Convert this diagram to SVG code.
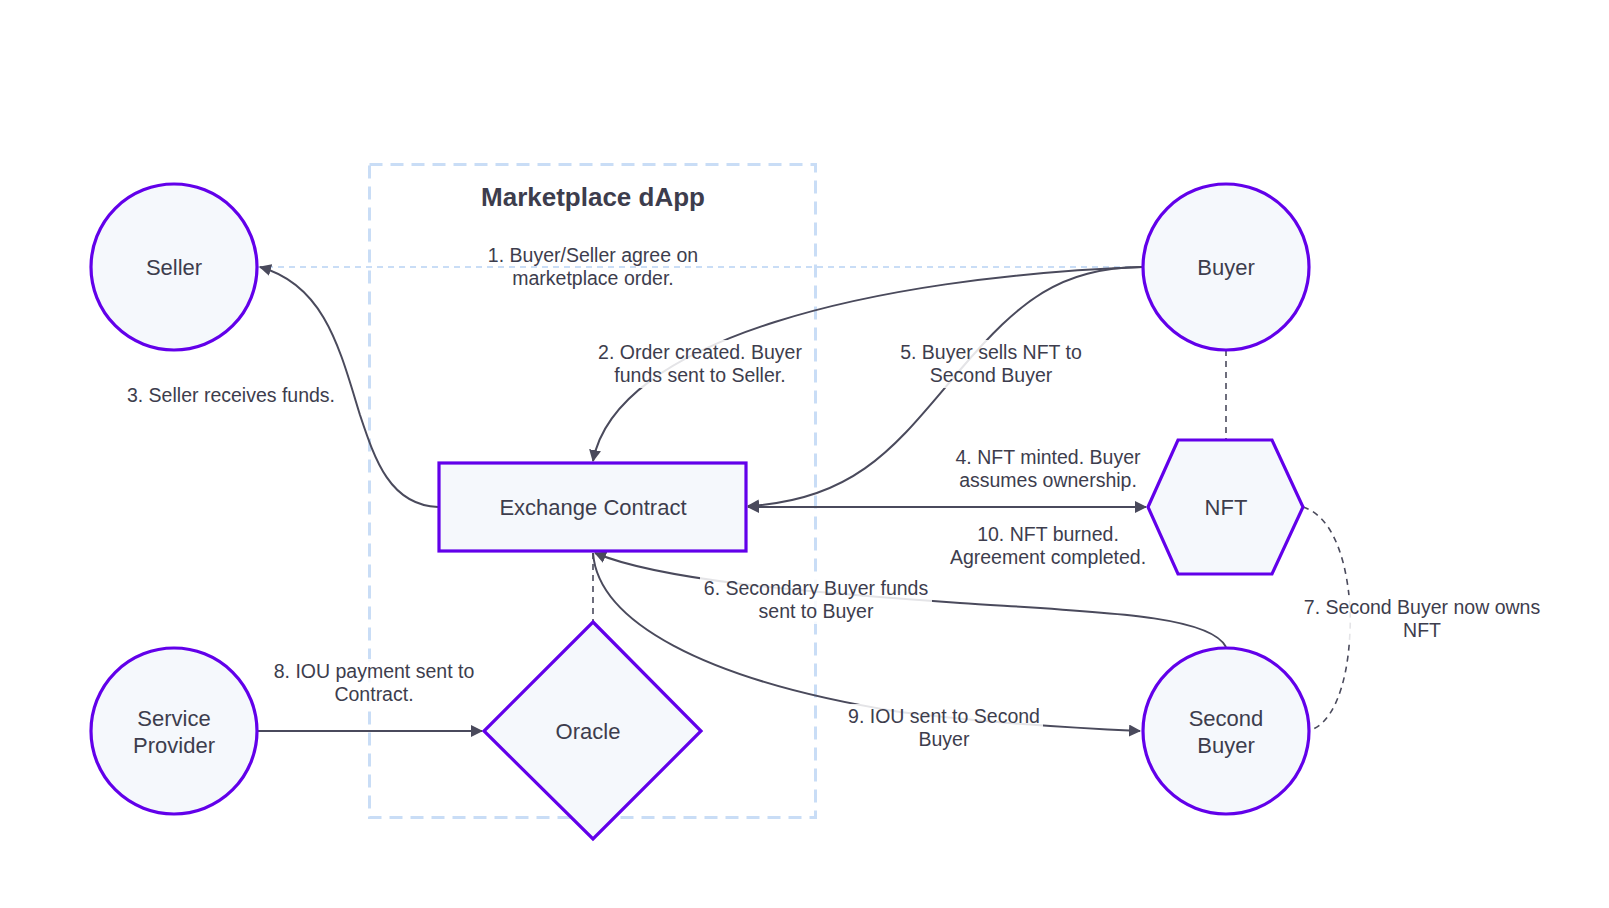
<svg xmlns="http://www.w3.org/2000/svg" width="1609" height="908" viewBox="0 0 1609 908">
<defs>
<marker id="arr" viewBox="0 0 12 12" refX="11" refY="6" markerWidth="12" markerHeight="12" markerUnits="userSpaceOnUse" orient="auto-start-reverse">
<path d="M0,0 L12,6 L0,12 z" fill="#4a4a5c"/>
</marker>
<style>
.node{fill:#f5f8fc;stroke:#6200ea;stroke-width:3.2}
.ntxt{font-family:"Liberation Sans",Arial,sans-serif;font-size:22px;fill:#3d3d4d;text-anchor:middle}
.etxt{font-family:"Liberation Sans",Arial,sans-serif;font-size:19.5px;fill:#3d3d4d;text-anchor:middle}
.title{font-family:"Liberation Sans",Arial,sans-serif;font-size:26px;font-weight:bold;fill:#3d3d4d;text-anchor:middle}
.edge{fill:none;stroke:#4a4a5c;stroke-width:2}
.dash{fill:none;stroke:#4a4a5c;stroke-width:1.6;stroke-dasharray:6,5}
.lbg{fill:#ffffff;fill-opacity:0.85}
.cluster{fill:none;stroke:#c9ddf6;stroke-width:3;stroke-dasharray:13,8}
</style>
</defs>
<rect x="0" y="0" width="1609" height="908" fill="#ffffff"/>
<g id="cluster-marketplace">
<rect class="cluster" x="369.5" y="164.5" width="446" height="653"/>
<text class="title" x="593" y="206">Marketplace dApp</text>
</g>
<g id="connectors">
<path d="M1142,267 L258,267" fill="none" stroke="#c9ddf6" stroke-width="1.8" stroke-dasharray="6,5"/>
<path class="edge" d="M1142,267 C872,277 616,339 593,461" marker-end="url(#arr)"/>
<path class="edge" d="M438,507 C390,505 375,460 360,415 C340,350 325,285 260,267" marker-end="url(#arr)"/>
<path class="edge" d="M748,507 L1146,507" marker-start="url(#arr)" marker-end="url(#arr)"/>
<path class="edge" d="M1142,267 C1060,268 1020,300 960,370 C900,440 860,500 748,506" marker-end="url(#arr)"/>
<path class="edge" d="M1226,647 C1210,615 1100,612 960,603 C800,592 660,580 595,553" marker-end="url(#arr)"/>
<path class="dash" d="M1303,507 C1345,520 1352,600 1350,630 C1348,690 1330,725 1310,730"/>
<path class="edge" d="M258,731 L482,731" marker-end="url(#arr)"/>
<path class="edge" d="M593,553 C598,620 700,680 900,712 C980,722 1050,727 1140,731" marker-end="url(#arr)"/>
<path class="dash" d="M593,553 L593,622"/>
<path class="dash" d="M1226,350 L1226,440"/>
</g>
<g id="edge-labels">
<g id="label-1">
<text class="etxt" x="593" y="261.5">1. Buyer/Seller agree on</text>
<text class="etxt" x="593" y="285">marketplace order.</text>
</g>
<g id="label-2">
<rect class="lbg" x="594" y="340" width="212" height="48"/>
<text class="etxt" x="700" y="358.5">2. Order created. Buyer</text>
<text class="etxt" x="700" y="382">funds sent to Seller.</text>
</g>
<g id="label-3">
<rect class="lbg" x="124" y="383" width="214" height="25"/>
<text class="etxt" x="231" y="402">3. Seller receives funds.</text>
</g>
<g id="label-4">
<rect class="lbg" x="952" y="445" width="192" height="48"/>
<text class="etxt" x="1048" y="463.5">4. NFT minted. Buyer</text>
<text class="etxt" x="1048" y="487">assumes ownership.</text>
</g>
<g id="label-10">
<rect class="lbg" x="947" y="522" width="202" height="48"/>
<text class="etxt" x="1048" y="540.5">10. NFT burned.</text>
<text class="etxt" x="1048" y="564">Agreement completed.</text>
</g>
<g id="label-5">
<rect class="lbg" x="897" y="340" width="188" height="48"/>
<text class="etxt" x="991" y="358.5">5. Buyer sells NFT to</text>
<text class="etxt" x="991" y="382">Second Buyer</text>
</g>
<g id="label-6">
<rect class="lbg" x="700" y="576" width="232" height="48"/>
<text class="etxt" x="816" y="594.5">6. Secondary Buyer funds</text>
<text class="etxt" x="816" y="618">sent to Buyer</text>
</g>
<g id="label-7">
<rect class="lbg" x="1300" y="595" width="244" height="48"/>
<text class="etxt" x="1422" y="613.5">7. Second Buyer now owns</text>
<text class="etxt" x="1422" y="637">NFT</text>
</g>
<g id="label-8">
<rect class="lbg" x="270" y="659" width="207" height="48"/>
<text class="etxt" x="374" y="677.5">8. IOU payment sent to</text>
<text class="etxt" x="374" y="701">Contract.</text>
</g>
<g id="label-9">
<rect class="lbg" x="845" y="704" width="198" height="48"/>
<text class="etxt" x="944" y="722.5">9. IOU sent to Second</text>
<text class="etxt" x="944" y="746">Buyer</text>
</g>
</g>
<g id="node-seller">
<circle class="node" cx="174" cy="267" r="83"/>
<text class="ntxt" x="174" y="275">Seller</text>
</g>
<g id="node-buyer">
<circle class="node" cx="1226" cy="267" r="83"/>
<text class="ntxt" x="1226" y="275">Buyer</text>
</g>
<g id="node-service-provider">
<circle class="node" cx="174" cy="731" r="83"/>
<text class="ntxt" x="174" y="726">Service</text>
<text class="ntxt" x="174" y="753">Provider</text>
</g>
<g id="node-second-buyer">
<circle class="node" cx="1226" cy="731" r="83"/>
<text class="ntxt" x="1226" y="726">Second</text>
<text class="ntxt" x="1226" y="753">Buyer</text>
</g>
<g id="node-exchange-contract">
<rect class="node" x="439" y="463" width="307" height="88"/>
<text class="ntxt" x="593" y="515">Exchange Contract</text>
</g>
<g id="node-nft">
<polygon class="node" points="1148,507 1178,440 1272,440 1303,507 1272,574 1178,574"/>
<text class="ntxt" x="1226" y="515">NFT</text>
</g>
<g id="node-oracle">
<polygon class="node" points="593,622 701,731 593,839 484,731"/>
<text class="ntxt" x="588" y="739">Oracle</text>
</g>
</svg>
